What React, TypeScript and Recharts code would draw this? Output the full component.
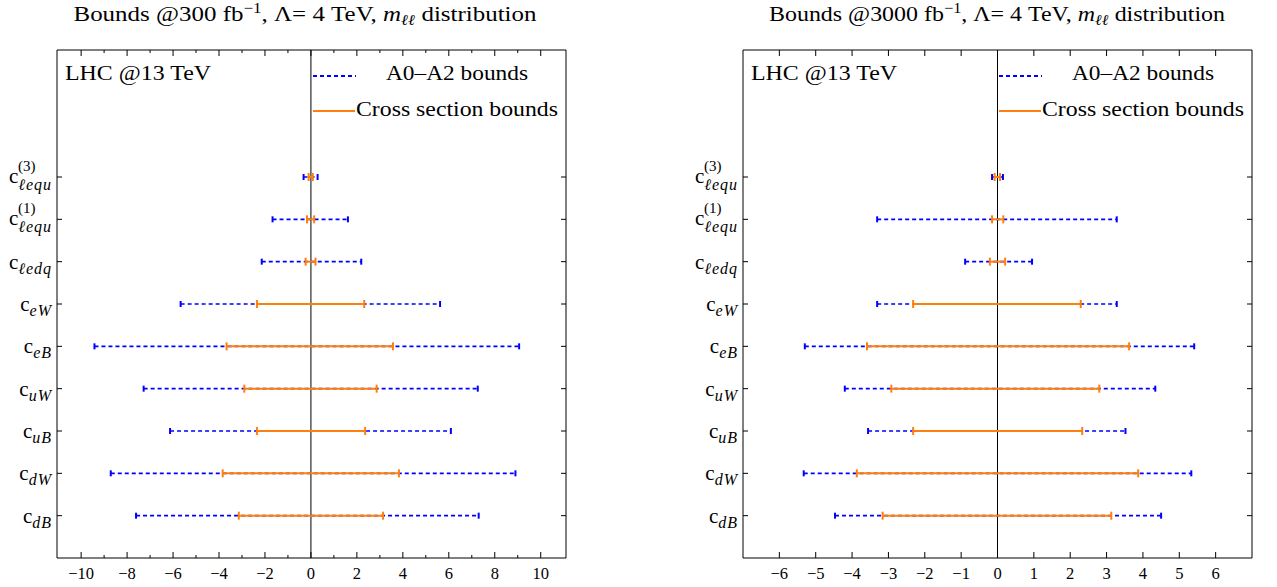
import React from 'react';
import { ComposedChart, Scatter, XAxis, YAxis, ReferenceLine, Legend } from 'recharts';

// Coefficients, listed top to bottom as in the figure
const coefficientSubscripts = ['ℓequ', 'ℓequ', 'ℓedq', 'eW', 'eB', 'uW', 'uB', 'dW', 'dB'];
const coefficientSuperscripts = ['(3)', '(1)', '', '', '', '', '', '', ''];
const yTickPositions = [0, 1, 2, 3, 4, 5, 6, 7, 8];

// 300 fb^-1 panel
const a0a2Low300 = [-0.32, -1.67, -2.14, -5.67, -9.42, -7.28, -6.13, -8.71, -7.61];
const a0a2High300 = [0.29, 1.61, 2.19, 5.62, 9.06, 7.26, 6.09, 8.9, 7.3];
const xsecLow300 = [-0.1, -0.17, -0.23, -2.35, -3.67, -2.9, -2.35, -3.84, -3.14];
const xsecHigh300 = [0.08, 0.14, 0.2, 2.32, 3.57, 2.86, 2.36, 3.83, 3.14];

// 3000 fb^-1 panel
const a0a2Low3000 = [-0.15, -3.31, -0.89, -3.31, -5.3, -4.2, -3.56, -5.33, -4.47];
const a0a2High3000 = [0.15, 3.28, 0.95, 3.28, 5.41, 4.34, 3.52, 5.33, 4.5];
const xsecLow3000 = [-0.08, -0.15, -0.21, -2.32, -3.59, -2.92, -2.32, -3.87, -3.16];
const xsecHigh3000 = [0.07, 0.16, 0.21, 2.29, 3.62, 2.8, 2.33, 3.87, 3.13];

const xTicks300 = [-10, -9, -8, -7, -6, -5, -4, -3, -2, -1, 0, 1, 2, 3, 4, 5, 6, 7, 8, 9, 10];
const xTicks3000 = [-6, -5, -4, -3, -2, -1, 0, 1, 2, 3, 4, 5, 6];

const SERIF = "'Liberation Serif', 'Times New Roman', serif";
const BLUE = '#0000ff';
const ORANGE = '#ff7f0e';

const fmt = (v: number) => (v < 0 ? '\u2212' + Math.abs(v) : String(v));

const XTickBottom = (props: any) => {
  const { x, y, payload, labelEvery } = props;
  const v = payload.value;
  const major = Math.abs(v) % labelEvery === 0;
  return (
    <g>
      <line x1={x} x2={x} y1={y} y2={y - (major ? 6 : 3)} stroke="#000" strokeWidth={1} />
      {major && (
        <text x={x} y={y + 21} textAnchor="middle" fontFamily={SERIF} fontSize={16.5} fill="#000">
          {fmt(v)}
        </text>
      )}
    </g>
  );
};

const XTickTop = (props: any) => {
  const { x, y, payload, labelEvery } = props;
  const v = payload.value;
  const major = Math.abs(v) % labelEvery === 0;
  return <line x1={x} x2={x} y1={y} y2={y + (major ? 6 : 3)} stroke="#000" strokeWidth={1} />;
};

const YTickLeft = (props: any) => {
  const { x, y, payload } = props;
  const k = 8 - payload.value;
  const sub = coefficientSubscripts[k];
  const sup = coefficientSuperscripts[k];
  const right = x - 5;
  return (
    <g>
      <line x1={x} x2={x + 5} y1={y} y2={y} stroke="#000" strokeWidth={1} />
      {sup ? (
        <g>
          <text x={right} y={y + 6} textAnchor="end" fontFamily={SERIF} fill="#000">
            <tspan fontSize={21}>c</tspan>
            <tspan fontSize={16} fontStyle="italic" dy={7} letterSpacing={1}>{sub}</tspan>
          </text>
          <text x={right - 34} y={y - 6} textAnchor="start" fontFamily={SERIF} fontSize={15} fill="#000">
            {sup}
          </text>
        </g>
      ) : (
        <text x={right} y={y + 7} textAnchor="end" fontFamily={SERIF} fill="#000">
          <tspan fontSize={21}>c</tspan>
          <tspan fontSize={16} fontStyle="italic" dy={5} letterSpacing={1}>{sub}</tspan>
        </text>
      )}
    </g>
  );
};

const YTickRight = (props: any) => {
  const { x, y } = props;
  return <line x1={x} x2={x - 5} y1={y} y2={y} stroke="#000" strokeWidth={1} />;
};

const blueCap = (props: any) => (
  <line x1={props.cx} x2={props.cx} y1={props.cy - 3} y2={props.cy + 3} stroke={BLUE} strokeWidth={2} />
);
const orangeCap = (props: any) => (
  <line x1={props.cx} x2={props.cx} y1={props.cy - 4} y2={props.cy + 4} stroke={ORANGE} strokeWidth={2} />
);
const noMark = () => <g />;

const LegendBox = () => (
  <svg width={509} height={90} style={{ display: 'block', overflow: 'visible' }}>
    <text x={8} y={30} fontFamily={SERIF} fontSize={20} fill="#000" textLength={146} lengthAdjust="spacingAndGlyphs">
      LHC @13 TeV
    </text>
    <line x1={256} x2={299} y1={26} y2={26} stroke={BLUE} strokeWidth={2} strokeDasharray="4 3" />
    <text x={400} y={30} textAnchor="middle" fontFamily={SERIF} fontSize={20} fill="#000" textLength={142} lengthAdjust="spacingAndGlyphs">
      A0–A2 bounds
    </text>
    <line x1={256} x2={298} y1={61} y2={61} stroke={ORANGE} strokeWidth={2} />
    <text x={400} y={66} textAnchor="middle" fontFamily={SERIF} fontSize={20} fill="#000" textLength={202} lengthAdjust="spacingAndGlyphs">
      Cross section bounds
    </text>
  </svg>
);

type PanelProps = {
  left: number;
  a0Low: number[];
  a0High: number[];
  xsLow: number[];
  xsHigh: number[];
  domain: [number, number];
  ticks: number[];
  labelEvery: number;
};

const Panel = ({ left, a0Low, a0High, xsLow, xsHigh, domain, ticks, labelEvery }: PanelProps) => {
  const rows = yTickPositions.map((_, k) => ({ pos: 8 - k, k }));
  return (
    <div style={{ position: 'absolute', left, top: 0 }}>
      <ComposedChart width={640} height={587} margin={{ top: 49, right: 73, bottom: 0, left: 0 }}>
        <XAxis
          xAxisId="b"
          dataKey="x"
          type="number"
          orientation="bottom"
          domain={domain}
          ticks={ticks}
          interval={0}
          height={29}
          tickSize={0}
          tickMargin={0}
          tickLine={false}
          tick={<XTickBottom labelEvery={labelEvery} />}
          axisLine={{ stroke: '#000', strokeWidth: 1 }}
          allowDataOverflow
        />
        <XAxis
          xAxisId="t"
          dataKey="x"
          type="number"
          orientation="top"
          domain={domain}
          ticks={ticks}
          interval={0}
          height={1}
          tickSize={0}
          tickMargin={0}
          tickLine={false}
          tick={<XTickTop labelEvery={labelEvery} />}
          axisLine={{ stroke: '#000', strokeWidth: 1 }}
          allowDataOverflow
        />
        <YAxis
          yAxisId="l"
          dataKey="y"
          type="number"
          orientation="left"
          domain={[-1, 11]}
          ticks={yTickPositions}
          interval={0}
          width={57}
          tickSize={0}
          tickMargin={0}
          tickLine={false}
          tick={<YTickLeft />}
          axisLine={{ stroke: '#000', strokeWidth: 1 }}
          allowDataOverflow
        />
        <YAxis
          yAxisId="r"
          dataKey="y"
          type="number"
          orientation="right"
          domain={[-1, 11]}
          ticks={yTickPositions}
          interval={0}
          width={1}
          tickSize={0}
          tickMargin={0}
          tickLine={false}
          tick={<YTickRight />}
          axisLine={{ stroke: '#000', strokeWidth: 1 }}
          allowDataOverflow
        />
        <Scatter
          xAxisId="t"
          yAxisId="r"
          data={[{ x: 0, y: 0 }]}
          shape={noMark}
          fill="none"
          isAnimationActive={false}
          legendType="none"
        />
        <ReferenceLine x={0} xAxisId="b" yAxisId="l" stroke="#000" strokeWidth={1} />
        {rows.map(({ pos, k }) => (
          <Scatter
            key={'a' + k}
            xAxisId="b"
            yAxisId="l"
            data={[{ x: a0Low[k], y: pos }, { x: a0High[k], y: pos }]}
            line={{ stroke: BLUE, strokeWidth: 1.6, strokeDasharray: '4 3' }}
            shape={blueCap}
            fill={BLUE}
            isAnimationActive={false}
            legendType="none"
          />
        ))}
        {rows.map(({ pos, k }) => (
          <Scatter
            key={'x' + k}
            xAxisId="b"
            yAxisId="l"
            data={[{ x: xsLow[k], y: pos }, { x: xsHigh[k], y: pos }]}
            line={{ stroke: ORANGE, strokeWidth: 2 }}
            shape={orangeCap}
            fill={ORANGE}
            isAnimationActive={false}
            legendType="none"
          />
        ))}
        <Legend
          layout="vertical"
          align="center"
          verticalAlign="middle"
          wrapperStyle={{ left: 57, top: 50, width: 509, height: 90 }}
          content={() => <LegendBox />}
        />
      </ComposedChart>
    </div>
  );
};

const Title = ({ cx, lumi, width }: { cx: number; lumi: string; width: number }) => (
  <text x={cx} y={21} textAnchor="middle" fontFamily={SERIF} fontSize={22} fill="#000" textLength={width} lengthAdjust="spacingAndGlyphs">
    <tspan>{'Bounds @' + lumi + ' fb'}</tspan>
    <tspan fontSize={15} dy={-8}>{'\u22121'}</tspan>
    <tspan dy={8}>{', Λ= 4 TeV, '}</tspan>
    <tspan fontStyle="italic">m</tspan>
    <tspan fontStyle="italic" fontSize={15} dy={4}>ℓℓ</tspan>
    <tspan dy={-4}>{' distribution'}</tspan>
  </text>
);

export default function App() {
  return (
    <div style={{ position: 'absolute', left: 0, top: 0, width: 1277, height: 587, background: '#fff', overflow: 'hidden' }}>
      <Panel
        left={0}
        a0Low={a0a2Low300}
        a0High={a0a2High300}
        xsLow={xsecLow300}
        xsHigh={xsecHigh300}
        domain={[-11.05, 11.1]}
        ticks={xTicks300}
        labelEvery={2}
      />
      <Panel
        left={686}
        a0Low={a0a2Low3000}
        a0High={a0a2High3000}
        xsLow={xsecLow3000}
        xsHigh={xsecHigh3000}
        domain={[-7, 7]}
        ticks={xTicks3000}
        labelEvery={1}
      />
      <svg width={1277} height={40} style={{ position: 'absolute', left: 0, top: 0, pointerEvents: 'none' }}>
        <Title cx={305} lumi="300" width={463} />
        <Title cx={997} lumi="3000" width={456} />
      </svg>
    </div>
  );
}
